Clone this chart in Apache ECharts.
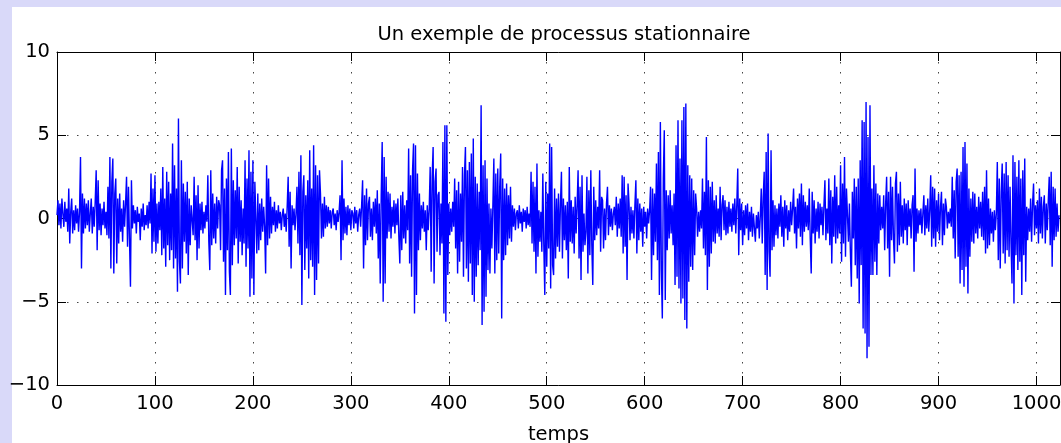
<!DOCTYPE html>
<html><head><meta charset="utf-8">
<script src="https://cdn.jsdelivr.net/npm/echarts@6/dist/echarts.min.js"></script>
<style>
html,body{margin:0;padding:0;background:#d9d9f9;width:1061px;height:443px;overflow:hidden;}
#bg{position:absolute;left:12px;top:7px;width:1049px;height:436px;background:#ffffff;}
#chart{position:absolute;left:0;top:0;width:1061px;height:443px;}
</style></head><body>
<div id="bg"></div><div id="chart"></div>
<script>
const chartTitle = "Un exemple de processus stationnaire";
const xAxisName = "temps";
const xTickValues = [0,100,200,300,400,500,600,700,800,900,1000];
const yTickValues = [-10,-5,0,5,10];
const xRange = [0, 1024];
const yRange = [-10, 10];
const signal = [
0.2,1.1,-0.4,0.9,-0.6,1.2,0.3,-0.5,1.0,-0.2,0.6,-0.8,1.8,-1.5,0.4,1.2,
-0.9,0.5,-0.7,0.8,-0.3,0.6,-0.8,0.4,3.7,-3.0,1.5,-0.9,1.2,-0.6,0.9,-0.4,
1.1,-0.8,0.3,1.2,-0.9,0.7,-0.5,1.0,2.9,-1.9,2.3,-0.7,0.9,-1.0,0.6,-0.4,
1.0,-0.6,0.4,-1.0,1.9,-1.2,3.7,-3.0,2.2,3.6,-3.3,1.5,2.4,-2.7,1.2,-1.5,
1.5,-0.8,0.6,-1.4,1.1,-0.5,0.9,2.5,-1.7,1.9,-1.2,-4.1,2.3,-0.6,0.8,-0.3,
0.5,-0.9,0.7,-0.2,0.3,-1.3,0.6,-0.5,0.9,-0.7,0.2,-0.4,0.8,-0.6,1.0,-0.3,
2.7,-2.1,1.8,-1.4,2.6,-2.0,0.9,-1.5,1.0,-0.7,1.8,-2.2,3.1,-1.8,1.2,-2.9,
2.8,-1.6,2.2,-2.5,1.5,-1.9,4.5,-3.0,3.2,-2.4,1.8,-4.4,6.0,-2.6,-3.9,3.5,
-3.0,2.1,-1.4,1.6,-2.1,2.2,-3.4,1.2,-1.6,0.8,0.9,-1.0,2.5,-1.3,1.4,-2.5,
2.0,-1.8,0.9,-0.7,1.0,-0.9,0.4,-0.6,0.8,-0.2,2.6,-1.4,-3.1,2.9,-1.6,1.5,
-1.2,0.9,-1.5,1.3,-0.6,1.1,0.8,-1.9,2.9,3.5,-2.6,1.8,-4.6,2.4,-1.9,4.0,
-3.2,-4.6,4.2,-2.8,2.3,-1.6,1.7,-1.2,3.1,-2.7,1.9,-1.4,1.1,-2.2,0.6,-1.5,
3.5,-2.9,2.4,-1.8,4.1,-4.7,2.8,-3.6,3.5,-4.6,2.2,2.3,-2.1,1.5,-1.9,0.9,
-1.3,1.2,-0.8,0.7,-0.5,-3.3,3.2,-1.6,2.4,-1.2,1.3,-0.9,0.7,-0.4,1.0,-0.8,
0.5,-0.6,0.8,-0.3,0.4,-0.7,0.2,0.6,-0.5,0.3,-0.8,0.7,2.5,-1.7,1.6,-3.0,
0.8,-0.4,0.6,-0.7,0.3,1.9,-1.5,2.8,-2.2,3.8,-5.2,1.6,2.6,-3.1,1.4,-1.8,
2.3,-3.6,4.1,-2.5,1.8,-2.9,4.4,-4.6,3.2,-3.7,2.6,-2.7,2.9,1.5,-1.2,0.9,
-1.1,1.3,-0.6,0.8,-0.5,0.7,-0.3,0.5,-0.6,0.4,0.6,-0.4,0.3,-0.7,0.5,-0.2,
0.4,1.4,-2.5,3.5,-1.3,1.2,-0.9,0.7,-1.0,0.8,-0.4,0.6,-0.7,0.5,0.3,-0.6,
0.7,-0.3,0.5,-0.8,0.2,0.6,-0.5,0.8,2.3,-3.0,1.4,-1.6,1.8,-1.3,0.9,1.3,
-1.1,0.6,-1.3,1.0,-0.5,1.2,-0.9,1.7,-2.4,0.9,-3.9,1.4,4.6,-5.0,3.7,-3.9,
2.5,-1.2,1.6,-0.8,1.5,-1.2,0.7,-0.5,1.1,-0.9,0.9,-0.4,1.2,-1.1,-2.7,1.4,
-1.9,1.6,-1.2,0.8,-1.5,1.1,-0.7,4.2,-2.7,2.6,-3.5,2.9,4.5,-5.7,4.4,-4.6,
2.7,-1.9,1.5,-1.3,0.8,-0.6,1.0,-0.8,0.5,-1.9,0.8,-0.7,0.6,3.1,-3.2,2.5,
4.3,-3.9,2.2,3.0,-2.0,1.4,1.6,-2.2,0.9,-1.5,4.6,-5.7,5.6,-6.2,5.6,-3.4,
0.9,-1.0,0.6,-0.8,1.0,-0.5,2.4,-1.8,1.7,-3.3,2.2,-2.6,1.5,-1.4,3.1,-3.5,
2.6,4.3,-3.0,2.9,-3.8,3.4,-2.7,3.9,-4.6,4.8,-5.0,2.5,-3.5,2.1,-2.8,1.6,
-1.9,6.8,-6.4,3.2,-5.6,3.5,-4.7,2.4,-3.1,0.9,-3.3,0.6,-1.8,0.8,3.6,-3.3,
2.7,-2.5,3.0,-2.1,1.9,3.9,-6.0,2.4,-2.5,1.8,-2.2,2.1,-1.6,1.4,-1.2,1.9,
-1.4,0.8,-0.5,0.6,-0.7,0.3,0.5,-0.6,0.8,-0.3,0.4,-0.8,0.6,-0.2,0.5,-0.6,
0.7,-0.4,0.3,-0.5,2.8,-1.5,2.2,-2.0,1.9,-3.3,3.3,-2.3,0.5,-1.4,0.4,-2.0,
2.7,-1.6,-4.6,2.2,-2.9,1.5,-1.8,4.5,-4.2,4.3,-2.8,-3.4,1.8,-2.4,1.2,-1.7,
1.5,-2.0,0.9,2.8,-2.4,1.2,-1.3,0.8,-1.9,1.0,-3.6,3.1,-1.4,1.1,-1.5,0.7,
-2.1,1.3,-0.9,0.8,2.9,-2.4,1.9,-3.7,2.6,-2.0,0.3,-1.6,-0.8,2.5,-3.3,1.7,
-2.2,2.9,-1.6,-4.0,1.9,-1.3,1.1,-1.0,0.7,-0.6,2.9,-2.0,1.3,1.1,-1.8,0.6,
-1.3,0.9,1.9,-1.0,0.8,-0.5,0.6,-0.7,0.3,0.7,-0.4,1.3,-1.1,0.9,-0.6,1.2,
-1.1,2.6,-2.1,2.5,-1.7,1.4,-3.7,2.1,0.9,-1.3,0.7,-0.9,0.5,-1.2,0.8,2.3,
-2.1,1.2,-1.3,0.9,-0.8,0.6,-1.7,0.7,-0.5,0.4,-1.2,0.6,-0.3,0.5,1.9,-3.7,
1.8,-2.2,1.5,-1.4,3.3,-2.5,4.0,-4.6,5.8,-3.1,-6.0,2.4,5.3,-4.9,1.7,-1.9,
1.4,-1.2,1.7,-0.9,0.8,-1.6,1.5,-4.0,4.4,-3.5,5.9,-4.2,3.6,-5.1,5.9,-4.8,
6.7,-6.1,6.9,-6.6,3.2,-3.8,2.6,-2.9,2.4,-3.1,1.7,-2.2,1.5,0.6,-1.1,0.4,
-0.8,0.5,-0.6,2.4,-1.8,1.6,-2.2,4.9,-4.3,2.3,-2.9,1.9,-2.1,2.2,-1.4,1.1,
-1.5,1.4,-0.9,0.6,-1.1,1.9,-1.3,0.8,1.4,-0.7,1.1,-1.0,0.7,-0.9,1.0,-0.5,
0.6,-0.8,0.9,-0.4,1.2,-0.9,0.8,3.0,-2.2,1.2,-0.7,0.9,-1.6,0.5,-1.0,0.8,
-0.6,0.9,-1.3,0.4,-0.8,0.7,-1.1,0.3,0.4,-1.4,0.2,-0.6,0.4,-1.2,0.1,1.8,
-1.5,1.3,2.8,-3.4,4.0,-4.3,5.1,-2.0,-3.5,4.1,-1.9,1.1,-1.7,0.8,-1.0,0.6,
-1.2,0.9,-0.5,1.4,-1.1,0.7,-1.7,1.1,-0.6,0.8,-1.3,0.5,-0.8,1.0,-0.4,0.6,
1.8,-0.9,0.7,-1.8,1.2,-0.6,1.5,-1.1,2.1,-1.6,1.4,-0.8,1.0,-0.5,0.8,-0.7,
1.8,-1.2,-3.3,1.6,-0.9,1.1,-1.5,0.6,-0.8,1.0,-1.2,0.9,-0.4,0.7,-1.0,0.8,
2.3,-1.3,0.6,-0.9,2.4,-1.6,1.7,-2.7,1.3,-1.1,2.6,-1.5,1.9,-1.2,0.8,-0.9,
3.2,-2.6,2.1,-1.5,3.7,-2.3,1.8,1.7,-1.4,0.9,-2.0,-4.1,1.6,-1.2,2.4,-2.8,
1.9,-3.6,2.4,-5.1,3.5,-2.8,5.9,-6.6,5.8,-6.9,7.0,-8.4,4.9,-7.7,6.8,-3.4,
1.8,-3.4,3.2,-2.6,2.1,-3.4,1.5,-1.5,1.4,-0.7,0.7,-0.6,1.4,-1.9,0.9,2.5,
-1.8,1.6,-3.5,2.5,-1.3,1.9,-1.2,-2.7,2.1,2.8,-2.0,1.5,-1.6,2.2,-1.1,0.8,
-1.5,1.2,-0.7,0.9,-1.6,1.1,-0.5,0.6,-1.2,0.8,1.4,-3.2,3.0,-1.4,0.6,-0.9,
0.5,-0.4,0.6,-0.9,0.3,1.4,-1.0,0.8,-0.6,1.2,-0.8,0.5,2.6,-1.7,1.9,-1.2,
1.8,-1.7,1.1,-0.8,1.5,-1.3,0.7,1.6,-1.6,0.9,-1.0,1.2,0.7,-0.6,0.4,-0.3,
0.6,-0.5,2.5,-1.2,1.7,-2.4,2.2,3.0,-2.3,2.6,-3.9,2.8,-3.1,4.3,-4.1,4.6,
-2.9,3.3,-4.5,1.8,-2.3,1.2,-1.4,1.6,-1.5,1.5,-0.9,0.7,-1.2,1.3,-0.6,1.0,
-1.1,1.6,-1.3,1.9,-2.1,2.9,-1.8,1.2,-1.6,0.6,-0.9,0.4,-1.4,0.5,-0.7,0.3,
3.4,-2.5,2.4,-3.0,1.6,3.3,-2.1,2.7,-2.7,3.4,-1.9,2.6,-2.3,1.9,-1.5,-3.9,
3.8,-5.1,3.4,-2.2,2.5,-3.1,3.5,-2.6,2.4,-4.6,2.9,-2.2,3.6,-3.8,0.7,-1.3,
0.6,-0.8,1.2,-1.4,0.9,2.1,-1.0,0.8,-0.6,1.1,-1.5,1.8,-0.9,1.3,-1.2,0.7,
1.4,-1.5,0.9,-0.7,1.0,2.5,-1.6,2.8,-2.9,1.9,-1.3,1.8,-1.1,0.9,-0.8,0.2
];

const FONT = '"DejaVu Sans", sans-serif';
const FS = 19.5;
const fmtNum = v => (v < 0 ? '\u2212' + Math.abs(v) : String(v));

const chart = echarts.init(document.getElementById('chart'), null, {renderer: 'canvas'});
const gridDot = {show: true, lineStyle: {color: '#444', width: 1, type: [1.5, 8.5]}};
const tickIn = {show: true, inside: true, length: 9, lineStyle: {color: '#000', width: 1}};
const lineBlack = {show: true, onZero: false, lineStyle: {color: '#000', width: 1}};

chart.setOption({
  backgroundColor: 'transparent',
  animation: false,
  title: {
    text: chartTitle, left: 559, top: 20, textAlign: 'center',
    textStyle: {fontFamily: FONT, fontSize: FS, fontWeight: 'normal', color: '#000'}
  },
  grid: {left: 57, right: 1, top: 52, bottom: 58, containLabel: false, outerBoundsMode: 'none'},
  xAxis: [{
    type: 'value', min: xRange[0], max: xRange[1], interval: 100,
    name: xAxisName, nameLocation: 'middle', nameGap: 40,
    nameTextStyle: {fontFamily: FONT, fontSize: FS, color: '#000'},
    axisLine: lineBlack, axisTick: tickIn,
    axisLabel: {margin: 9, fontFamily: FONT, fontSize: FS, color: '#000',
      formatter: v => xTickValues.includes(v) ? fmtNum(v) : ''},
    splitLine: gridDot
  }, {
    type: 'value', position: 'top', min: xRange[0], max: xRange[1], interval: 100,
    axisLine: lineBlack, axisTick: tickIn, axisLabel: {show: false}, splitLine: {show: false}
  }],
  yAxis: [{
    type: 'value', min: yRange[0], max: yRange[1], interval: 5,
    axisLine: lineBlack, axisTick: tickIn,
    axisLabel: {margin: 7, fontFamily: FONT, fontSize: FS, color: '#000',
      formatter: v => yTickValues.includes(v) ? fmtNum(v) : ''},
    splitLine: gridDot
  }, {
    type: 'value', position: 'right', min: yRange[0], max: yRange[1], interval: 5,
    axisLine: lineBlack, axisTick: tickIn, axisLabel: {show: false}, splitLine: {show: false}
  }],
  series: [{
    type: 'line', xAxisIndex: 0, yAxisIndex: 0,
    data: signal.map((v, i) => [i, v]),
    showSymbol: false, symbol: 'none', sampling: null,
    lineStyle: {color: '#0000ff', width: 1.4}, itemStyle: {color: '#0000ff'},
    z: 5
  }]
});
</script></body></html>
